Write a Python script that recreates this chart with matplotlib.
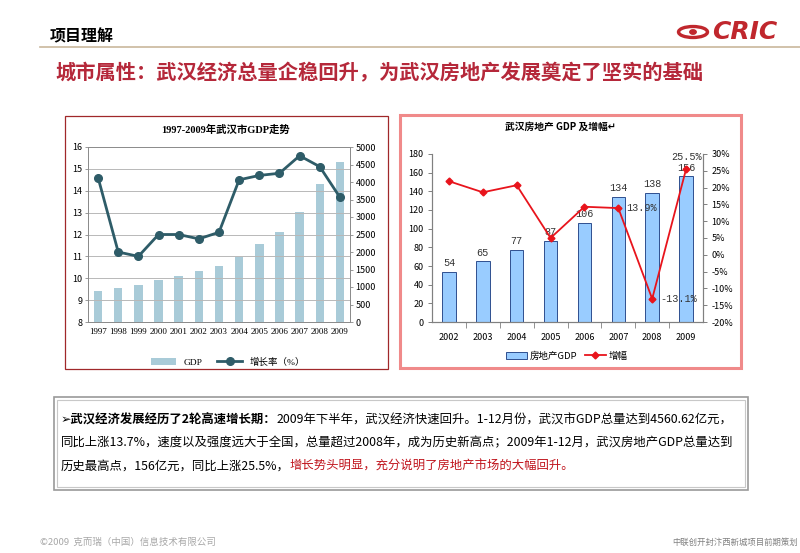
import matplotlib
matplotlib.use("Agg")
import matplotlib.pyplot as plt
from matplotlib.patches import Rectangle, Ellipse, Circle
from matplotlib.lines import Line2D

plt.rcParams["font.family"] = ["Noto Sans CJK SC", "DejaVu Sans"]

W, H = 800, 553

# ─── data ───────────────────────────────────────────────────────────────────
years_city = ["1997", "1998", "1999", "2000", "2001", "2002", "2003",
              "2004", "2005", "2006", "2007", "2008", "2009"]
gdp_city = [900, 980, 1060, 1200, 1320, 1460, 1600, 1870, 2240, 2580, 3140, 3950, 4560]
growth_city = [14.6, 11.2, 11.0, 12.0, 12.0, 11.8, 12.1, 14.5, 14.7, 14.8, 15.6, 15.1, 13.7]

years_re = ["2002", "2003", "2004", "2005", "2006", "2007", "2008", "2009"]
gdp_re = [54, 65, 77, 87, 106, 134, 138, 156]
growth_re = [21.9, 18.6, 20.7, 5.0, 14.3, 13.9, -13.1, 25.5]
growth_re_labels = {5: "13.9%", 6: "-13.1%", 7: "25.5%"}


def fx(x):
    return x / W


def fy(y):
    return 1 - y / H


def box(x0, y0, x1, y1):
    return [fx(x0), fy(y1), (x1 - x0) / W, (y1 - y0) / H]


fig = plt.figure(figsize=(8, 5.53), dpi=100)

# ─── header ────────────────────────────────────────────────────────────────
fig.text(fx(50), fy(36), "项目理解", fontsize=11.5, fontweight="bold", va="center")
fig.add_artist(Line2D([fx(40), fx(800)], [fy(47), fy(47)], color="#c9b79c", lw=1.2))
fig.text(fx(55), fy(73), "城市属性：武汉经济总量企稳回升，为武汉房地产发展奠定了坚实的基础",
         fontsize=14.6, fontweight="bold", color="#b5283a", va="center")

# CRIC logo
fig.add_artist(Ellipse((fx(693), fy(32)), 29 / W, 11 / H, fill=False, ec="#c0272d", lw=2.4))
fig.add_artist(Circle((fx(693), fy(32)), 3.2 / W, color="#c0272d"))
fig.text(fx(712), fy(32), "CRIC", fontsize=18, fontweight="heavy", fontstyle="italic",
         color="#c0272d", va="center", family="DejaVu Sans")

# ─── left chart ────────────────────────────────────────────────────────────
fig.add_artist(Rectangle((fx(65), fy(369)), 323 / W, 253 / H, fill=False,
                         ec="#a0282a", lw=0.9))
fig.text(fx(226), fy(130), "1997-2009年武汉市GDP走势", fontsize=7.5, fontweight="bold",
         ha="center", va="center", family=["Liberation Serif", "Noto Sans CJK SC"])

axl = fig.add_axes(box(88, 147, 350, 322))
axr = axl.twinx()
x = list(range(len(years_city)))
axr.bar(x, gdp_city, width=0.42, color="#a9cbd8", label="GDP", zorder=1)
axr.set_ylim(0, 5000)
axr.set_yticks(range(0, 5001, 500))
axl.plot(x, growth_city, color="#2e5c68", lw=2, marker="o", markersize=5.5,
         label="增长率（%）", zorder=3)
axl.set_ylim(8, 16)
axl.set_yticks(range(8, 17))
axl.set_xlim(-0.5, len(years_city) - 0.5)
axl.set_xticks(x)
axl.set_xticklabels(years_city, family="Liberation Serif", fontsize=6.8)
axl.grid(axis="y", color="#b8b8b8", lw=0.7)
axl.set_axisbelow(True)
axl.set_zorder(axr.get_zorder() + 1)
axl.patch.set_visible(False)
for a in (axl, axr):
    a.tick_params(length=2, width=0.6, color="#888888", labelsize=6.5, pad=2)
    for s in a.spines.values():
        s.set_color("#8c8c8c")
        s.set_linewidth(0.7)
axl.tick_params(axis="x", length=0, pad=4)

h1, l1 = axr.get_legend_handles_labels()
h2, l2 = axl.get_legend_handles_labels()
fig.legend(h1 + h2, l1 + l2, loc="center", bbox_to_anchor=(fx(228), fy(362)), ncol=2,
           frameon=False, handlelength=2.6, columnspacing=1.6,
           prop={"family": ["Liberation Serif", "Noto Sans CJK SC"], "size": 6.8})

# ─── right chart ───────────────────────────────────────────────────────────
fig.add_artist(Rectangle((fx(400), fy(368)), 341 / W, 253 / H, fill=False,
                         ec="#f08a8a", lw=2.2))
fig.text(fx(560), fy(127), "武汉房地产 GDP 及增幅↵", fontsize=7, fontweight="bold",
         ha="center", va="center", family=["Noto Sans CJK SC", "DejaVu Sans"])

bx = fig.add_axes(box(432, 154, 703, 322))
bx2 = bx.twinx()
xr = list(range(len(years_re)))
bx.bar(xr, gdp_re, width=0.4, color="#99ccff", edgecolor="#2f4f8f", lw=0.7,
       label="房地产GDP", zorder=2)
for xi, v in zip(xr, gdp_re):
    bx.text(xi, v + 4, str(v), ha="center", va="bottom", fontsize=7.3,
            family="Liberation Mono", color="#333333", zorder=1)
bx.set_ylim(0, 180)
bx.set_yticks(range(0, 181, 20))
bx.set_xlim(-0.5, len(years_re) - 0.5)
bx.set_xticks(xr)
bx.set_xticklabels(years_re)
bx.set_xticks([i + 0.5 for i in xr[:-1]], minor=True)

bx2.plot(xr, growth_re, color="#e8141c", lw=1.3, marker="D", markersize=3.5,
         label="增幅", zorder=3)
for i, t in growth_re_labels.items():
    if i == 7:
        bx2.text(xr[i], growth_re[i] + 2.2, t, ha="center", va="bottom", fontsize=7.3,
                 family="Liberation Mono", color="#333333")
    else:
        bx2.text(xr[i] + 0.24, growth_re[i], t, ha="left", va="center", fontsize=7.3,
                 family="Liberation Mono", color="#333333")
bx2.set_ylim(-20, 30)
bx2.set_yticks(range(-20, 31, 5))
bx2.set_yticklabels([f"{v}%" for v in range(-20, 31, 5)])

for a in (bx, bx2):
    a.spines["top"].set_visible(False)
    for s in ("left", "right", "bottom"):
        a.spines[s].set_color("#808080")
        a.spines[s].set_linewidth(0.8)
    a.tick_params(labelsize=6.5, color="#808080", length=3, width=0.7, pad=3)
bx.tick_params(axis="x", which="major", length=0, pad=8)
bx.tick_params(axis="x", which="minor", length=4, color="#808080")

hb, lb = bx.get_legend_handles_labels()
hl, ll = bx2.get_legend_handles_labels()
fig.legend(hb + hl, lb + ll, loc="center", bbox_to_anchor=(fx(567), fy(356)), ncol=2,
           frameon=False, fontsize=6.8, handlelength=2.2, columnspacing=0.8,
           handletextpad=0.3)

# ─── text box ──────────────────────────────────────────────────────────────
fig.add_artist(Rectangle((fx(54), fy(490)), 694 / W, 93 / H, fill=False,
                         ec="#9a9a9a", lw=1.2))
fig.add_artist(Rectangle((fx(57), fy(487)), 688 / W, 87 / H, fill=False,
                         ec="#c8c8c8", lw=0.8))

fs = 8.9
renderer = fig.canvas.get_renderer()


def put_runs(y, runs):
    xp = fx(61)
    for txt, kw in runs:
        t = fig.text(xp, fy(y), txt, fontsize=fs, va="center",
                     family=["Noto Sans CJK SC", "DejaVu Sans"], **kw)
        bb = t.get_window_extent(renderer=renderer)
        xp = bb.x1 / fig.bbox.width


put_runs(420, [("➢武汉经济发展经历了2轮高速增长期：", {"fontweight": "bold"}),
               ("2009年下半年，武汉经济快速回升。1-12月份，武汉市GDP总量达到4560.62亿元，", {})])
put_runs(443, [("同比上涨13.7%，速度以及强度远大于全国，总量超过2008年，成为历史新高点；2009年1-12月，武汉房地产GDP总量达到", {})])
put_runs(466, [("历史最高点，156亿元，同比上涨25.5%，", {}),
               ("增长势头明显，充分说明了房地产市场的大幅回升。", {"color": "#c0141c"})])

# ─── footer ────────────────────────────────────────────────────────────────
fig.text(fx(40), fy(542), "©2009  克而瑞（中国）信息技术有限公司", fontsize=6.8,
         color="#a8a8a8", va="center")
fig.text(fx(798), fy(542), "中联创开封汴西新城项目前期策划", fontsize=6.0,
         color="#808080", va="center", ha="right")

fig.savefig("out.png", dpi=100)
